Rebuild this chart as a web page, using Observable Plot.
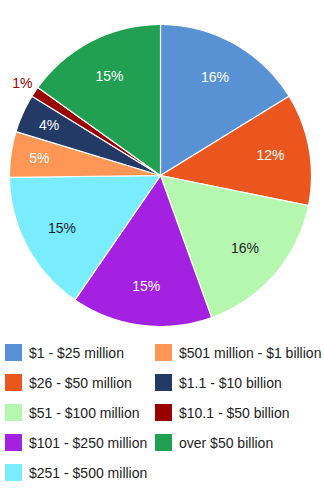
<!DOCTYPE html>
<html>
<head>
<meta charset="utf-8">
<script src="https://cdn.jsdelivr.net/npm/d3@7"></script>
<script src="https://cdn.jsdelivr.net/npm/@observablehq/plot@0.6"></script>
<style>
  html, body { margin: 0; padding: 0; background: #fff; }
  body { width: 324px; font-family: Arial, "Liberation Sans", sans-serif; }
  #legend { position: relative; height: 170px; font-size: 14px; color: #222; }
  .item { position: absolute; display: flex; align-items: center; height: 17px; white-space: nowrap; }
  .sw { width: 17px; height: 17px; margin-right: 7px; flex: none; }
</style>
</head>
<body>
<div id="chart"></div>
<div id="legend"></div>
<script>
const categories = [
  "$1 - $25 million", "$26 - $50 million", "$51 - $100 million",
  "$101 - $250 million", "$251 - $500 million", "$501 million - $1 billion",
  "$1.1 - $10 billion", "$10.1 - $50 billion", "over $50 billion"
];
const values = [16.2, 12.0, 16.3, 15.1, 15.2, 4.9, 4.1, 1.1, 15.1];
const colors = ["#5892d4", "#eb561e", "#b6f7b0", "#a421e1", "#79edfe", "#fe9655", "#233966", "#990000", "#20a050"];
const darkText = ["$51 - $100 million", "$251 - $500 million"];
const outsideLabels = ["$10.1 - $50 billion"];

const total = d3.sum(values);
// slice angles (clockwise from 12 o'clock)
let acc = 0;
const slices = categories.map((c, i) => {
  const a0 = acc / total * 2 * Math.PI;
  acc += values[i];
  const a1 = acc / total * 2 * Math.PI;
  return {category: c, value: values[i], a0, a1, pct: Math.round(values[i] / total * 100) + "%"};
});

// polygon outline for each slice in unit-circle coordinates
const outline = [];
for (const s of slices) {
  const n = Math.max(2, Math.ceil((s.a1 - s.a0) / (Math.PI / 180)));
  outline.push({category: s.category, x: 0, y: 0});
  for (let k = 0; k <= n; k++) {
    const a = s.a0 + (s.a1 - s.a0) * k / n;
    outline.push({category: s.category, x: Math.sin(a), y: Math.cos(a)});
  }
  outline.push({category: s.category, x: 0, y: 0});
}

const labels = slices.map(s => {
  const mid = (s.a0 + s.a1) / 2;
  const outside = outsideLabels.includes(s.category);
  const share = s.value / total;
  const r = outside ? 1.1 : share < 0.06 ? 0.81 : 0.74;
  return {...s, x: r * Math.sin(mid), y: r * Math.cos(mid), outside, dark: darkText.includes(s.category)};
});

const chart = Plot.plot({
  width: 324,
  height: 330,
  marginLeft: 9,
  marginRight: 13,
  marginTop: 24,
  marginBottom: 4,
  x: {domain: [-1, 1], axis: null},
  y: {domain: [-1, 1], axis: null},
  color: {domain: categories, range: colors},
  style: {fontFamily: "Arial, 'Liberation Sans', sans-serif", background: "white"},
  marks: [
    Plot.line(outline, {x: "x", y: "y", z: "category", fill: "category", stroke: "white", strokeWidth: 1.2, strokeLinejoin: "round", curve: "linear"}),
    Plot.text(labels.filter(d => !d.outside), {x: "x", y: "y", text: "pct", fill: d => d.dark ? "#222" : "white", fontSize: 14}),
    Plot.text(labels.filter(d => d.outside), {x: "x", y: "y", text: "pct", fill: "category", fontSize: 14})
  ]
});
document.getElementById("chart").appendChild(chart);

// legend: two columns
const legend = d3.select("#legend");
const colLeft = [5, 155];
categories.forEach((c, i) => {
  const col = i < 5 ? 0 : 1;
  const row = i < 5 ? i : i - 5;
  const item = legend.append("div").attr("class", "item")
    .style("left", colLeft[col] + "px")
    .style("top", (14 + row * 30) + "px");
  item.append("div").attr("class", "sw").style("background", colors[i]);
  item.append("span").text(c);
});
</script>
</body>
</html>
